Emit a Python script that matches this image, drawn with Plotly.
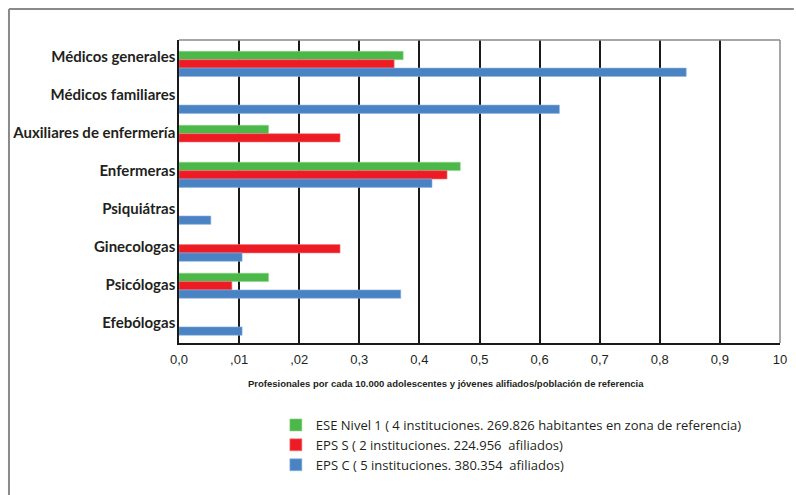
import plotly.graph_objects as go

# Professionals per 10,000 affiliated adolescents and young people
categories = [
    "Médicos generales",
    "Médicos familiares",
    "Auxiliares de enfermería",
    "Enfermeras",
    "Psiquiátras",
    "Ginecologas",
    "Psicólogas",
    "Efebólogas",
]
ese_nivel1 = [0.373, None, 0.149, 0.468, None, None, 0.149, None]
eps_s = [0.358, None, 0.268, 0.446, None, 0.268, 0.088, None]
eps_c = [0.844, 0.633, None, 0.421, 0.053, 0.105, 0.369, 0.105]

series_names = [
    "ESE Nivel 1 ( 4 instituciones. 269.826 habitantes en zona de referencia)",
    "EPS S ( 2 instituciones. 224.956  afiliados)",
    "EPS C ( 5 instituciones. 380.354  afiliados)",
]
series_colors = ["#4cb849", "#ed1c24", "#4a83c4"]
edge_colors = ["#8fd48c", "#f47b80", "#8db3e0"]

tick_vals = [0.0, 0.1, 0.2, 0.3, 0.4, 0.5, 0.6, 0.7, 0.8, 0.9, 1.0]
tick_text = ["0,0", ",01", ",02", "0,3", "0,4", "0,5", "0,6", "0,7", "0,8", "0,9", "10"]

fig = go.Figure()
for name, vals, col, edge in zip(series_names, [ese_nivel1, eps_s, eps_c], series_colors, edge_colors):
    fig.add_trace(go.Bar(
        y=categories, x=vals, name=name, orientation="h",
        marker=dict(color=col, line=dict(color=edge, width=0.6)),
        yaxis="y2",
    ))

# invisible trace to keep the label axis populated
fig.add_trace(go.Scatter(y=categories, x=[0] * len(categories), mode="markers",
                         marker=dict(opacity=0), showlegend=False, hoverinfo="skip"))

W, H = 796, 495
plot_l, plot_r, plot_t, plot_b = 179, 787, 40, 343


def px_x(px):
    return (px - plot_l) / (plot_r - plot_l)


def px_y(py):
    return (plot_b - py) / (plot_b - plot_t)


fig.update_layout(
    width=W, height=H,
    margin=dict(l=plot_l, r=W - plot_r, t=plot_t, b=H - plot_b),
    paper_bgcolor="white", plot_bgcolor="white",
    barmode="group", bargap=0.32, bargroupgap=0,
    font=dict(family="Liberation Sans, sans-serif", color="#231f20"),
    showlegend=True,
    legend=dict(
        x=px_x(277), y=px_y(410),
        xanchor="left", yanchor="top",
        font=dict(family="Open Sans, sans-serif", size=13, color="#231f20"),
        tracegroupgap=0, traceorder="normal", itemwidth=30,
        bgcolor="rgba(0,0,0,0)",
    ),
    xaxis=dict(
        range=[0, 1.0], tickvals=tick_vals, ticktext=tick_text,
        showgrid=True, gridcolor="#1a1a1a", gridwidth=1.5,
        showline=True, linecolor="#1a1a1a", linewidth=1.5,
        mirror=False, zeroline=False,
        ticks="outside", ticklen=0, ticklabelstandoff=4,
        tickfont=dict(size=13, family="Liberation Sans, sans-serif"),
        fixedrange=True,
    ),
    yaxis=dict(
        type="category", categoryorder="array", categoryarray=categories,
        range=[7.525, -0.43],
        showgrid=False, showline=True, linecolor="#1a1a1a", linewidth=1.5,
        ticks="", ticklabelstandoff=-1,
        tickfont=dict(size=15, family="Lato, sans-serif", weight="bold"),
    ),
    yaxis2=dict(
        type="category", categoryorder="array", categoryarray=categories,
        overlaying="y", range=[7.549, -0.646],
        visible=False, showgrid=False,
    ),
    shapes=[
        # plot frame top and right edges
        dict(type="line", xref="paper", yref="paper", x0=0, x1=1, y0=1, y1=1,
             line=dict(color="#8a8a8a", width=1.5)),
        dict(type="line", xref="paper", yref="paper", x0=1, x1=1, y0=0, y1=1,
             line=dict(color="#8a8a8a", width=1.5)),
        # outer page border
        dict(type="line", xref="paper", yref="paper",
             x0=px_x(7), x1=px_x(W + 5), y0=px_y(9), y1=px_y(9),
             line=dict(color="#8a8a8a", width=2)),
        dict(type="line", xref="paper", yref="paper",
             x0=px_x(7), x1=px_x(7), y0=px_y(9), y1=px_y(H + 5),
             line=dict(color="#8a8a8a", width=2)),
    ],
    annotations=[
        dict(text="Profesionales por cada 10.000 adolescentes y jóvenes alifiados/población de referencia",
             xref="paper", yref="paper", x=px_x(449), y=px_y(383),
             xanchor="center", yanchor="middle", showarrow=False,
             font=dict(size=9.5, family="Liberation Sans, sans-serif",
                       weight="bold", color="#231f20")),
    ],
)

fig.write_html("out.html")
